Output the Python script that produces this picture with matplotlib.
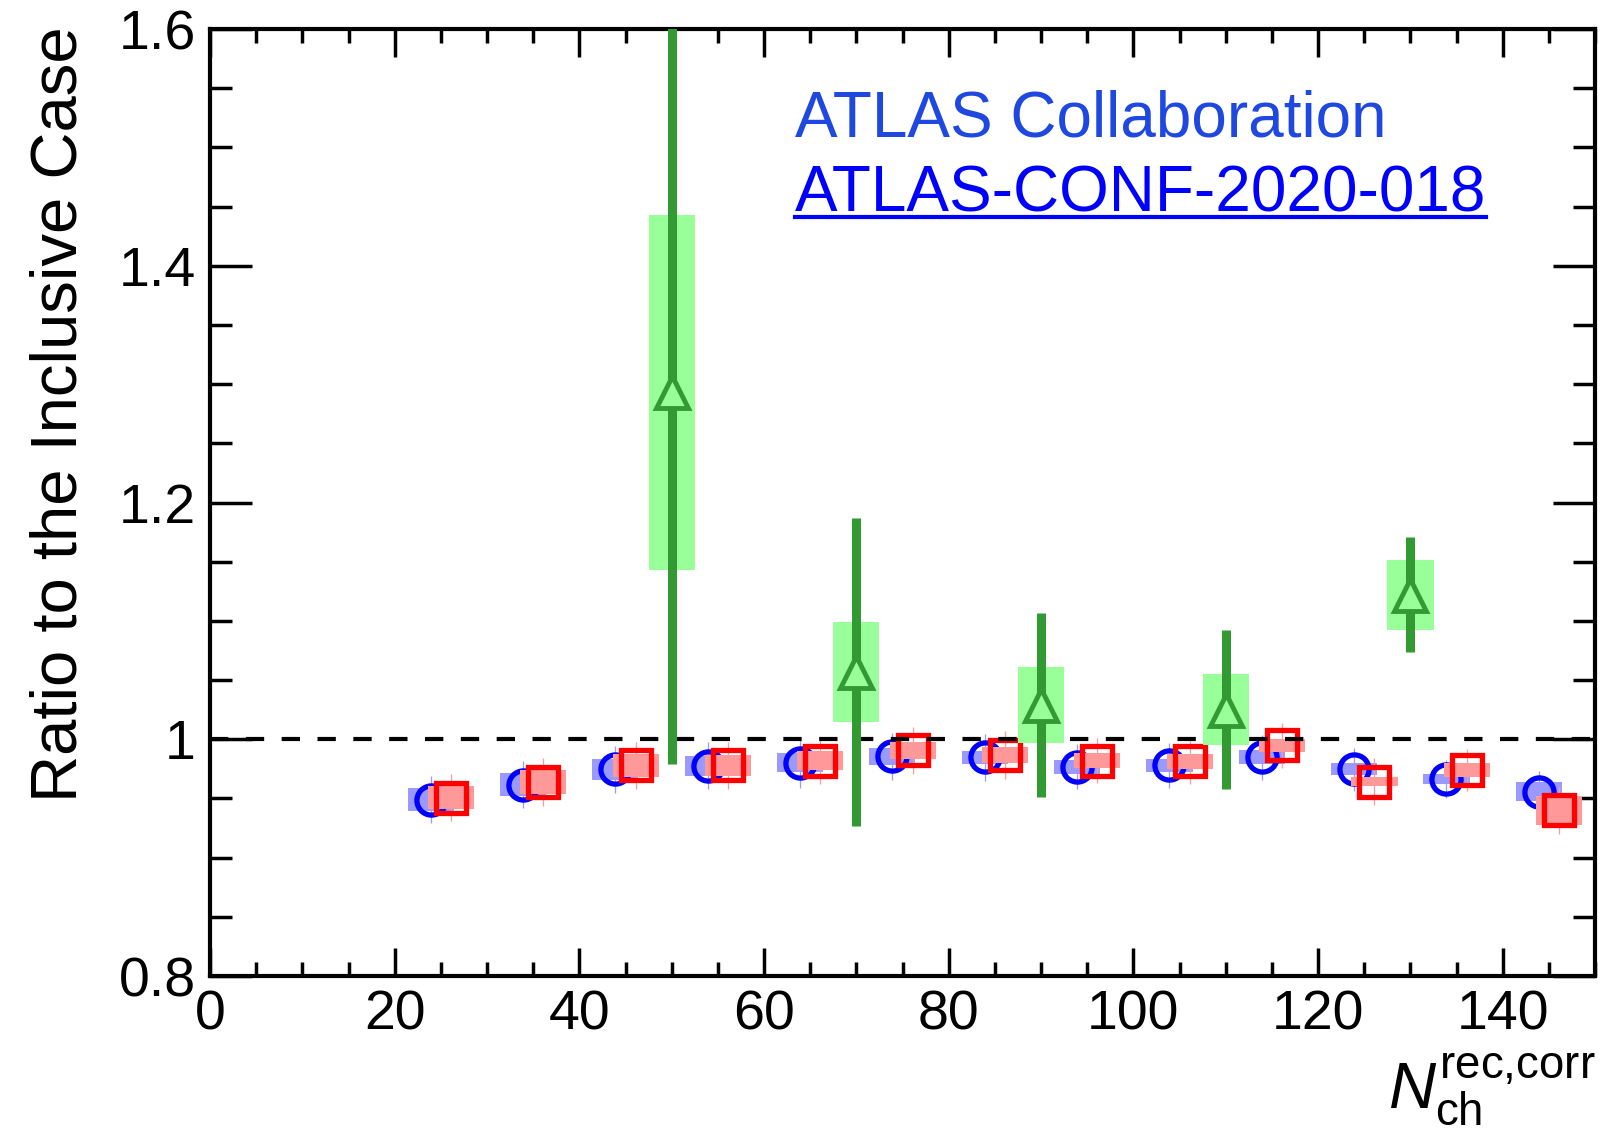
import numpy as np
import matplotlib
matplotlib.use('Agg')
import matplotlib.pyplot as plt
from matplotlib.ticker import MultipleLocator, FuncFormatter
from matplotlib.lines import Line2D

plt.rcParams['font.family'] = ['Liberation Sans', 'DejaVu Sans']
plt.rcParams['mathtext.fontset'] = 'custom'
plt.rcParams['mathtext.rm'] = 'Liberation Sans'
plt.rcParams['mathtext.it'] = 'Liberation Sans:italic'

# bin centres in N_ch
nch_bins = np.array([25, 35, 45, 55, 65, 75, 85, 95, 105, 115, 125, 135, 145])

# blue circles
blue_y = [0.949, 0.9616, 0.9747, 0.9778, 0.980, 0.9856, 0.9848, 0.9766, 0.978, 0.9848, 0.9747, 0.9665, 0.9558]
blue_stat = [0.020, 0.020, 0.020, 0.020, 0.021, 0.020, 0.020, 0.019, 0.019, 0.019, 0.018, 0.016, 0.017]
blue_sys = [0.010, 0.0097, 0.009, 0.0085, 0.008, 0.007, 0.0056, 0.0056, 0.0056, 0.006, 0.005, 0.004, 0.0077]

# red squares
red_y = [0.9506, 0.964, 0.978, 0.978, 0.982, 0.9907, 0.9868, 0.9817, 0.9814, 0.995, 0.9643, 0.974, 0.940]
red_stat = [0.020, 0.020, 0.020, 0.020, 0.020, 0.020, 0.020, 0.019, 0.019, 0.019, 0.020, 0.018, 0.020]
red_sys = [0.0098, 0.010, 0.0097, 0.009, 0.0077, 0.0073, 0.0068, 0.0063, 0.0063, 0.0056, 0.004, 0.0056, 0.0125]

# green triangles
green_x = [50, 70, 90, 110, 130]
green_y = [1.293, 1.057, 1.029, 1.025, 1.122]
green_stat = [0.314, 0.130, 0.078, 0.067, 0.0485]
green_sys = [0.150, 0.042, 0.032, 0.030, 0.0295]

shift = 1.1      # horizontal offset of blue / red points
box_w = 5.0

fig = plt.figure(figsize=(16.08, 11.34), dpi=100)
ax = fig.add_axes([0.1306, 0.1393, 0.8614, 0.8351])

bx = nch_bins - shift
rx = nch_bins + shift
blue_y = np.array(blue_y); red_y = np.array(red_y)
blue_sys = np.array(blue_sys); red_sys = np.array(red_sys)

# blue
ax.bar(bx, 2*blue_sys, bottom=blue_y-blue_sys, width=box_w, color='#9999ff', lw=0, zorder=2)
ax.vlines(bx, blue_y-np.array(blue_stat), blue_y+np.array(blue_stat), color='#9999ff', lw=0.9, zorder=2.1)
ax.plot(bx, blue_y, ls='none', marker='o', ms=21, mew=3.8, mec='#0000ff', mfc='none', zorder=3)

# red
ax.bar(rx, 2*red_sys, bottom=red_y-red_sys, width=box_w, color='#ff9999', lw=0, zorder=4)
ax.vlines(rx, red_y-np.array(red_stat), red_y+np.array(red_stat), color='#ff9999', lw=0.9, zorder=4.1)
ax.plot(rx, red_y, ls='none', marker='s', ms=22, mew=3.8, mec='#ff0000', mfc='none', zorder=5)

ax.axhline(1.0, color='black', lw=3, ls=(0, (4.4, 4.2)), zorder=5.5)

# green
green_y = np.array(green_y); green_sys = np.array(green_sys); green_stat = np.array(green_stat)
ax.bar(green_x, 2*green_sys, bottom=green_y-green_sys, width=box_w, color='#99ff99', lw=0, zorder=6)
ax.vlines(green_x, green_y-green_stat, green_y+green_stat, color='#339933', lw=6.5, zorder=7)
ax.plot(green_x, green_y, ls='none', marker='^', ms=23, mew=3.5, mec='#339933', mfc='#99ff99', zorder=8)

ax.set_xlim(0, 150)
ax.set_ylim(0.8, 1.6)

ax.xaxis.set_major_locator(MultipleLocator(20))
ax.xaxis.set_minor_locator(MultipleLocator(5))
ax.yaxis.set_major_locator(MultipleLocator(0.2))
ax.yaxis.set_minor_locator(MultipleLocator(0.05))
ax.yaxis.set_major_formatter(FuncFormatter(lambda v, p: '%g' % round(v, 3)))

ax.tick_params(which='both', direction='in', top=True, right=True, width=2.5, labelsize=40)
ax.tick_params(axis='y', which='major', length=30, pad=10)
ax.tick_params(axis='y', which='minor', length=16)
ax.tick_params(axis='x', which='major', length=20, pad=9.5)
ax.tick_params(axis='x', which='minor', length=10)
for s in ax.spines.values():
    s.set_linewidth(3)

ax.set_ylabel('Ratio to the Inclusive Case', fontsize=47, loc='top')
ax.yaxis.set_label_coords(-0.087, 1.003)
ax.set_xlabel(r'$N_{\mathrm{ch}}^{\mathrm{rec{,}corr}}$', fontsize=47, loc='right')
ax.xaxis.set_label_coords(1.0, -0.08)

ax.text(0.4224, 0.887, 'ATLAS Collaboration', transform=ax.transAxes,
        fontsize=46, color='#1f48e0', va='baseline', ha='left')
t2 = ax.text(0.4224, 0.8068, 'ATLAS-CONF-2020-018', transform=ax.transAxes,
             fontsize=46, color='#0000ff', va='baseline', ha='left')

# underline
fig.canvas.draw()
bb = t2.get_window_extent()
base = ax.transAxes.transform((0.4224, 0.8068))[1]
inv = fig.transFigure.inverted()
p0 = inv.transform((bb.x0, base - 5))
p1 = inv.transform((bb.x1, base - 5))
fig.add_artist(Line2D([p0[0], p1[0]], [p0[1], p1[1]], color='#0000ff', lw=3, transform=fig.transFigure))

fig.savefig('out.png', dpi=100)
